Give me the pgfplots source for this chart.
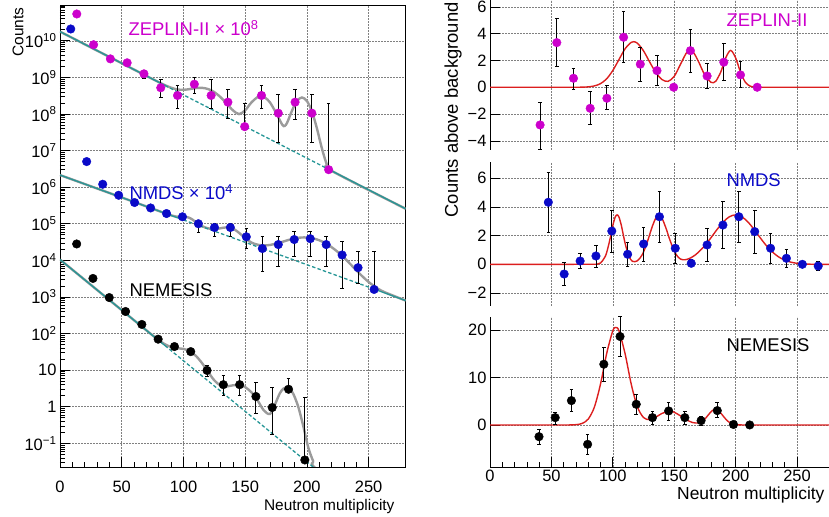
\documentclass[border=0pt]{standalone}
\usepackage{pgfplots}
\pgfplotsset{compat=1.18}
\usepackage{pgfplotstable}
\usepackage{fontspec}
\setmainfont{Liberation Sans}
\definecolor{zmag}{RGB}{204,0,204}
\definecolor{nblue}{RGB}{10,10,200}
\definecolor{bgteal}{RGB}{38,150,150}
\definecolor{fitgray}{RGB}{155,155,155}
\definecolor{fitred}{RGB}{220,30,30}

% ---------- left panel data ----------
\pgfplotstableread{
x y ep em
13.6 5.4e10 0 0
27.2 7.8e9 0 0
40.8 3.2e9 0 0
54.4 2.5e9 0 0
68.0 1.25e9 3.0e8 3.0e8
81.6 5.2e8 3.3e8 2.3e8
95.2 3.2e8 3.0e8 1.8e8
108.8 6.5e8 3.5e8 2.8e8
122.4 3.2e8 5.3e8 1.8e8
136.0 2.1e8 2.6e8 1.35e8
149.6 4.5e7 1.45e8 0
163.2 3.2e8 3.0e8 1.8e8
176.8 1.05e8 2.45e8 0.88e8
190.4 2.1e8 2.6e8 1.4e8
204.0 1.05e8 2.45e8 0.88e8
217.6 3.0e6 1.87e8 0
}\zl
\pgfplotstableread{
x y ep em
8.7 2.1e10 0 0
21.6 5.0e6 0 0
34.6 1.2e6 0 0
47.5 6.0e5 0 0
60.4 3.8e5 0 0
73.4 2.7e5 0 0
86.3 1.9e5 0 0
99.2 1.55e5 2.0e4 2.0e4
112.1 1.0e5 2.0e4 4.1e4
125.1 7.9e4 2.1e4 3.5e4
138.0 7.9e4 2.1e4 3.5e4
150.9 4.4e4 3.0e4 2.3e4
163.9 2.1e4 2.5e4 1.6e4
176.8 2.7e4 1.9e4 2.0e4
189.7 3.7e4 2.3e4 2.4e4
202.7 3.9e4 2.1e4 2.6e4
215.6 2.7e4 1.9e4 2.0e4
228.5 1.4e4 1.9e4 1.23e4
241.4 6.3e3 1.17e4 3.9e3
254.4 1.6e3 1.64e4 0
}\nl
\pgfplotstableread{
x y ep em
13.5 2.8e4 0 0
26.7 3.2e3 0 0
39.9 960 0 0
53.1 400 0 0
66.3 177 0 0
79.5 70 0 0
92.7 44 5 5
105.9 32 4 4
119.1 9.8 4 3.2
132.3 4.0 3.0 2.0
145.5 4.0 3.0 2.0
158.7 1.9 2.8 1.24
171.9 0.95 2.35 0.78
185.1 3.0 2.8 0.5
198.3 0.035 1.8 0
}\el
\pgfplotstableread{
x y
0 1.78e10
60 1.63e9
80 7.39e8
85 6.13e8
90 5.21e8
95 4.68e8
100 4.57e8
105 4.78e8
110 5.10e8
115 5.18e8
120 4.79e8
125 3.95e8
130 2.89e8
135 1.93e8
140 1.26e8
145 9.9e7
150 1.26e8
155 2.06e8
160 2.88e8
163 3.02e8
166 2.80e8
170 2.09e8
175 1.07e8
180 5.1e7
182 4.7e7
184 5.8e7
188 1.25e8
192 2.29e8
196 2.82e8
200 2.26e8
204 1.18e8
208 4.15e7
212 1.19e7
216 4.3e6
220 2.79e6
280 2.56e5
}\zg
\pgfplotstableread{
x y
0 2.14e6
60 3.94e5
85 1.94e5
90 1.70e5
94 1.57e5
97 1.54e5
100 1.54e5
102 1.53e5
103.5 1.50e5
105 1.44e5
107 1.32e5
110 1.11e5
113 9.4e4
116 8.3e4
120 7.48e4
124 7.14e4
128 7.31e4
132 7.76e4
135 7.97e4
137.5 7.82e4
140 7.34e4
143 6.39e4
147 4.96e4
151 3.78e4
155 3.07e4
159 2.73e4
163 2.58e4
167 2.56e4
170 2.63e4
175 2.85e4
180 3.19e4
185 3.60e4
190 3.97e4
195 4.19e4
200 4.21e4
205 3.98e4
210 3.53e4
215 2.94e4
220 2.29e4
225 1.69e4
230 1.19e4
235 8.0e3
240 5.35e3
245 3.63e3
250 2.55e3
255 1.91e3
260 1.50e3
265 1.26e3
280 794
}\ng
\pgfplotstableread{
x y
0 1.05e4
60 230
65 167.5
70 122
75 89.0
80 65.8
85 50.7
90 42.7
95 39.8
100 37.9
102.5 35.9
105 33.0
110 24.6
115 15.6
120 8.9
125 5.24
130 3.80
135 3.59
140 3.84
146 3.87
150 3.43
155 2.48
160 1.49
165 0.80
170 0.63
174 1.13
178 2.31
181 3.13
183.5 3.39
186 3.11
189 2.23
193 0.99
197 0.30
201 0.079
205 0.033
210 0.0165
280 1.9e-4
}\eg

% ---------- right panel data ----------
\pgfplotstableread{
x y ep em
40.8 -2.81 1.66 1.82
54.4 3.33 1.82 1.79
68.0 0.67 0.75 0.82
81.6 -1.57 1.24 1.24
95.2 -0.82 0.92 0.87
108.8 3.73 1.91 1.89
122.4 1.72 1.24 1.30
136.0 1.24 1.10 1.07
149.6 0.0 0.2 0.2
163.2 2.73 1.60 1.64
176.8 0.84 0.95 0.91
190.4 1.87 1.41 1.33
204.0 0.92 0.99 0.95
217.6 0.0 0.2 0.2
}\zr
\pgfplotstableread{
x y ep em
47.5 4.33 2.06 2.10
60.4 -0.68 0.82 0.83
73.4 0.23 0.50 0.50
86.3 0.58 0.77 0.82
99.2 2.32 1.47 1.51
112.1 0.70 0.83 0.87
125.1 1.42 1.14 1.19
138.0 3.32 1.77 1.77
150.9 1.12 1.05 1.05
163.9 0.07 0.25 0.25
176.8 1.35 1.14 1.14
189.7 2.74 1.65 1.65
202.7 3.32 1.78 1.78
215.6 2.28 1.51 1.51
228.5 1.12 1.05 1.05
241.4 0.42 0.65 0.65
254.4 0.0 0.2 0.2
267.3 -0.12 0.33 0.33
}\nr
\pgfplotstableread{
x y ep em
39.9 -2.46 1.56 1.74
53.1 1.54 1.13 1.34
66.3 5.12 2.25 2.31
79.5 -4.07 2.11 2.03
92.7 12.77 3.51 3.65
105.9 18.6 4.2 4.2
119.1 4.35 2.11 2.10
132.3 1.54 1.26 1.34
145.5 2.95 1.75 1.90
158.7 1.54 1.26 1.34
171.9 0.91 0.84 0.91
185.1 3.02 1.68 1.48
198.3 0.1 0.3 0.3
211.5 0.0 0.3 0.3
}\er
\pgfplotstableread{
x y
0 0
60 0
70 0.002
75 0.007
80 0.03
85 0.10
90 0.27
95 0.63
100 1.25
105 2.06
110 2.87
115 3.35
117 3.40
120 3.29
125 2.72
130 1.89
135 1.11
140 0.58
145 0.44
150 0.81
155 1.69
160 2.57
163 2.75
166 2.56
170 1.88
175 0.90
180 0.37
182 0.34
184 0.46
188 1.15
192 2.20
196 2.75
200 2.20
204 1.13
208 0.37
212 0.08
216 0.01
220 0
280 0
}\zf
\pgfplotstableread{
x y
0 0
60 0
85 0.004
88 0.03
90 0.09
94 0.57
97 1.48
100 2.70
102 3.30
103.5 3.45
105 3.30
107 2.70
110 1.48
113 0.59
116 0.21
120 0.24
124 0.67
128 1.53
132 2.60
135 3.22
137.5 3.40
140 3.22
143 2.60
147 1.58
151 0.76
155 0.37
159 0.32
163 0.43
167 0.64
170 0.86
175 1.31
180 1.86
185 2.44
190 2.96
195 3.32
200 3.45
205 3.32
210 2.96
215 2.44
220 1.86
225 1.31
230 0.86
235 0.52
240 0.29
245 0.15
250 0.07
255 0.03
260 0.01
265 0
280 0
}\nf
\pgfplotstableread{
x y
0 0
60 0
65 0.01
70 0.06
75 0.31
80 1.24
85 3.75
90 8.6
95 15.0
100 19.8
102.5 20.5
105 19.8
110 15.0
115 8.6
120 3.85
125 1.56
130 1.12
135 1.64
140 2.42
146 2.90
150 2.68
155 1.93
160 1.09
165 0.51
170 0.42
174 0.97
178 2.18
181 3.03
183.5 3.30
186 3.03
189 2.17
193 0.94
197 0.26
201 0.05
205 0.01
210 0
280 0
}\ef

\pgfplotsset{
  common/.style={
    scale only axis,
    anchor=south west,
    xmin=0, xmax=280,
    font=\fontsize{16.5}{19}\selectfont,
    /pgf/number format/assume math mode=true,
    tick align=inside,
    major tick length=10bp,
    minor tick length=5bp,
    every tick/.style={black, line width=0.6bp},
    grid=major,
    major grid style={black!50, dash pattern=on 1.5bp off 1.5bp, line width=0.5bp},
    axis line style={line width=0.8bp},
    xtick={0,50,...,250},
    minor x tick num=4,
    xtick pos=bottom, ytick pos=left,
  },
  errs/.style={only marks, mark=none, forget plot,
    error bars/.cd, y dir=both, y explicit,
    error bar style={draw=black, solid, line width=0.9bp},
    error mark options={draw=black, rotate=90, mark size=1.8bp, line width=0.9bp}},
  pts/.style={only marks, mark=*, mark size=4.3bp, mark options={draw=#1, fill=#1}},
  gcurve/.style={fitgray, line width=2.4bp, smooth},
  bgs/.style={bgteal, line width=1.3bp},
  bgd/.style={bgteal, line width=1.3bp, dash pattern=on 3.5bp off 2.2bp},
  rcurve/.style={fitred, line width=1.4bp, smooth},
  rpanel/.style={common, width=343.8bp, axis lines*=left},
  noxaxis/.style={x axis line style={draw=none}, xticklabels={},
    every major x tick/.append style={draw=none},
    every minor x tick/.append style={draw=none}},
}

\begin{document}
\begin{tikzpicture}[x=1bp,y=1bp]
% ================= LEFT PANEL =================
\begin{axis}[common, at={(60bp,50bp)}, width=345.7bp, height=462bp,
  ymode=log, ymin=0.0225, ymax=9.5e10,
  xticklabel style={yshift=-11bp},
  ytick={0.1,1,10,100,1e3,1e4,1e5,1e6,1e7,1e8,1e9,1e10},
  minor ytick={3e-2,4e-2,5e-2,6e-2,7e-2,8e-2,9e-2,
    2e-1,3e-1,4e-1,5e-1,6e-1,7e-1,8e-1,9e-1,
    2,3,4,5,6,7,8,9,
    2e1,3e1,4e1,5e1,6e1,7e1,8e1,9e1,
    2e2,3e2,4e2,5e2,6e2,7e2,8e2,9e2,
    2e3,3e3,4e3,5e3,6e3,7e3,8e3,9e3,
    2e4,3e4,4e4,5e4,6e4,7e4,8e4,9e4,
    2e5,3e5,4e5,5e5,6e5,7e5,8e5,9e5,
    2e6,3e6,4e6,5e6,6e6,7e6,8e6,9e6,
    2e7,3e7,4e7,5e7,6e7,7e7,8e7,9e7,
    2e8,3e8,4e8,5e8,6e8,7e8,8e8,9e8,
    2e9,3e9,4e9,5e9,6e9,7e9,8e9,9e9,
    2e10,3e10,4e10,5e10,6e10,7e10,8e10,9e10},
  yticklabels={10\textsuperscript{−1},1,10,10\textsuperscript{2},10\textsuperscript{3},10\textsuperscript{4},10\textsuperscript{5},10\textsuperscript{6},10\textsuperscript{7},10\textsuperscript{8},10\textsuperscript{9},10\textsuperscript{10}},
]
\addplot[gcurve] table[x=x,y=y] {\zg};
\addplot[gcurve] table[x=x,y=y] {\ng};
\addplot[gcurve] table[x=x,y=y] {\eg};
\addplot[bgs] coordinates {(0,1.78e10) (85,6.03e8)};
\addplot[bgd] coordinates {(85,6.03e8) (217.6,3.07e6)};
\addplot[bgs] coordinates {(217.6,3.07e6) (280,2.56e5)};
\addplot[bgs] coordinates {(0,2.14e6) (100,1.27e5)};
\addplot[bgd] coordinates {(100,1.27e5) (254.4,1.64e3)};
\addplot[bgs] coordinates {(254.4,1.64e3) (280,794)};
\addplot[bgs] coordinates {(0,1.05e4) (85,46.9)};
\addplot[bgd] coordinates {(85,46.9) (280,1.9e-4)};
\addplot[errs] table[x=x,y=y,y error plus=ep,y error minus=em] {\zl};
\addplot[errs] table[x=x,y=y,y error plus=ep,y error minus=em] {\nl};
\addplot[errs] table[x=x,y=y,y error plus=ep,y error minus=em] {\el};
\addplot[pts=zmag] table[x=x,y=y] {\zl};
\addplot[pts=nblue] table[x=x,y=y] {\nl};
\addplot[pts=black] table[x=x,y=y] {\el};
\end{axis}
\node[rotate=90, anchor=east, font=\fontsize{15.5}{18}\selectfont] at (18bp,513bp) {Counts};
\node[anchor=base east, font=\fontsize{15.5}{18}\selectfont] at (398bp,7bp) {Neutron multiplicity};
\node[anchor=west, text=zmag, font=\fontsize{18.5}{21}\selectfont] at (125bp,489bp) {ZEPLIN-II × 10\textsuperscript{8}};
\node[anchor=west, text=nblue, font=\fontsize{18.5}{21}\selectfont] at (126bp,325bp) {NMDS × 10\textsuperscript{4}};
\node[anchor=west, text=black, font=\fontsize{18.5}{21}\selectfont] at (126bp,227bp) {NEMESIS};

% ================= RIGHT TOP =================
\begin{axis}[rpanel, noxaxis, at={(490bp,367bp)}, height=150bp,
  ymin=-4.68, ymax=6.51, ytick={-4,-2,0,2,4,6},
  yticklabels={−4,−2,0,2,4,6}]
\addplot[rcurve] table[x=x,y=y] {\zf};
\addplot[errs] table[x=x,y=y,y error plus=ep,y error minus=em] {\zr};
\addplot[pts=zmag] table[x=x,y=y] {\zr};
\end{axis}
% ================= RIGHT MID =================
\begin{axis}[rpanel, noxaxis, at={(490bp,211bp)}, height=144bp,
  ymin=-2.91, ymax=7.14, ytick={-2,0,2,4,6},
  yticklabels={−2,0,2,4,6}]
\addplot[rcurve] table[x=x,y=y] {\nf};
\addplot[errs] table[x=x,y=y,y error plus=ep,y error minus=em] {\nr};
\addplot[pts=nblue] table[x=x,y=y] {\nr};
\end{axis}
% ================= RIGHT BOTTOM =================
\begin{axis}[rpanel, at={(490bp,50bp)}, height=150bp,
  ymin=-8.84, ymax=22.7, ytick={0,10,20}]
\addplot[rcurve] table[x=x,y=y] {\ef};
\addplot[errs] table[x=x,y=y,y error plus=ep,y error minus=em] {\er};
\addplot[pts=black] table[x=x,y=y] {\er};
\end{axis}
\node[rotate=90, anchor=west, font=\fontsize{18.5}{21}\selectfont] at (453bp,296bp) {Counts above background};
\node[anchor=base east, font=\fontsize{17.5}{20}\selectfont] at (828bp,18bp) {Neutron multiplicity};
\node[anchor=west, text=zmag, font=\fontsize{18.5}{21}\selectfont] at (723bp,497bp) {ZEPLIN-II};
\node[anchor=west, text=nblue, font=\fontsize{18.5}{21}\selectfont] at (723bp,337bp) {NMDS};
\node[anchor=west, text=black, font=\fontsize{18.5}{21}\selectfont] at (723bp,172bp) {NEMESIS};

\pgfresetboundingbox
\path[use as bounding box] (0bp,0bp) rectangle (829bp,517bp);
\end{tikzpicture}
\end{document}
